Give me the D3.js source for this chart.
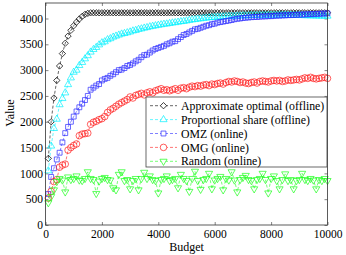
<!DOCTYPE html>
<html>
<head>
<meta charset="utf-8">
<script src="https://cdn.jsdelivr.net/npm/d3@7"></script>
<style>
  body { margin: 0; background: #fff; }
  text { font-family: "Liberation Serif", "Times New Roman", serif; fill: #000; }
</style>
</head>
<body>
<div id="vis"></div>
<script>
var width = 346,
    height = 255;

// budget grid (x values)
var budget = [100,200,300,400,500,600,700,800,900,1000,1100,1200,1300,1400,1500,1600,1700,1800,1900,2000,
  2100,2200,2300,2400,2500,2600,2700,2800,2900,3000,3100,3200,3300,3400,3500,3600,3700,3800,3900,4000,
  4100,4200,4300,4400,4500,4600,4700,4800,4900,5000,5100,5200,5300,5400,5500,5600,5700,5800,5900,6000,
  6100,6200,6300,6400,6500,6600,6700,6800,6900,7000,7100,7200,7300,7400,7500,7600,7700,7800,7900,8000,
  8100,8200,8300,8400,8500,8600,8700,8800,8900,9000,9100,9200,9300,9400,9500,9600,9700,9800,9900,10000];

var approxOpt = [1290,2000,2460,2800,3080,3320,3520,3660,3770,3860,3930,3990,4040,4080,4100,4110,4110,4110,4110,4110,
  4110,4110,4110,4110,4110,4110,4110,4110,4110,4110,4110,4110,4110,4110,4110,4110,4110,4110,4110,4110,
  4110,4110,4110,4110,4110,4110,4110,4110,4110,4110,4110,4110,4110,4110,4110,4110,4110,4110,4110,4110,
  4110,4110,4110,4110,4110,4110,4110,4110,4110,4110,4110,4110,4110,4110,4110,4110,4110,4110,4110,4110,
  4110,4110,4110,4110,4110,4110,4110,4110,4110,4110,4110,4110,4110,4110,4110,4110,4110,4110,4110,4110];

var propShare = [1050,1530,1870,2050,2330,2450,2560,2720,2850,2960,3000,3090,3150,3220,3280,3350,3400,3440,3490,3530,
  3550,3590,3610,3640,3660,3680,3700,3710,3725,3740,3760,3770,3790,3800,3815,3825,3840,3850,3860,3870,
  3880,3890,3895,3905,3915,3920,3930,3940,3945,3955,3965,3975,3980,3990,3995,4005,4010,4015,4020,4025,
  4030,4030,4035,4040,4040,4045,4045,4050,4050,4055,4055,4055,4060,4060,4060,4062,4062,4064,4064,4065,
  4065,4065,4066,4066,4066,4064,4064,4062,4060,4060,4058,4056,4055,4054,4052,4050,4050,4048,4048,4047];

var omz = [600,930,1100,1270,1400,1600,1780,1900,2000,2100,2200,2280,2350,2420,2500,2620,2660,2700,2730,2800,
  2830,2850,2890,2920,2960,3000,3010,3040,3080,3100,3130,3170,3200,3250,3290,3300,3340,3380,3410,3430,
  3450,3470,3500,3520,3550,3560,3600,3640,3680,3700,3730,3760,3790,3800,3820,3840,3860,3870,3890,3900,
  3920,3930,3940,3950,3960,3970,3985,3995,4000,4010,4015,4020,4025,4030,4030,4035,4040,4040,4045,4045,
  4050,4055,4055,4060,4060,4065,4065,4070,4070,4075,4075,4080,4080,4085,4085,4090,4090,4095,4095,4100];

var omg = [520,650,840,880,1120,1160,1180,1450,1500,1540,1570,1730,1760,1770,1780,1950,1990,2010,2040,2060,
  2100,2180,2230,2260,2300,2340,2370,2400,2430,2480,2460,2510,2530,2550,2520,2560,2580,2560,2600,2620,
  2640,2610,2620,2600,2620,2640,2610,2650,2660,2640,2670,2690,2680,2700,2690,2710,2720,2700,2730,2720,
  2740,2750,2730,2760,2780,2770,2790,2780,2760,2770,2750,2740,2760,2770,2750,2780,2790,2780,2770,2790,
  2800,2790,2800,2780,2790,2810,2800,2810,2820,2810,2830,2850,2840,2860,2840,2830,2840,2850,2860,2840];

var randomOnline = [430,550,680,840,900,870,640,930,880,900,950,870,860,900,1030,900,880,610,850,900,
  920,880,870,720,680,980,1030,860,880,700,860,900,680,900,1020,900,950,880,860,620,
  880,900,950,860,880,900,720,980,900,860,650,900,1040,860,690,880,900,1000,700,870,
  900,940,680,900,870,1030,870,640,880,920,960,880,860,700,880,900,1000,880,620,900,
  950,860,700,880,990,860,880,700,860,880,1000,880,860,900,870,700,880,860,900,860];

var seriesNames = ["Approximate optimal (offline)", "Proportional share (offline)", "OMZ (online)", "OMG (online)", "Random (online)"];
var seriesColors = ["#000000", "#00f0ff", "#2a2aff", "#ff1a1a", "#1aff1a"];
var seriesMarkers = ["diamond", "triangle", "square", "circle", "triangleDown"];
var seriesValues = [approxOpt, propShare, omz, omg, randomOnline];

var xTicks = [0, 2000, 4000, 6000, 8000, 10000];
var yTicks = [0, 500, 1000, 1500, 2000, 2500, 3000, 3500, 4000];

var plotLeft = 45.5, plotRight = 327.5, plotTop = 3, plotBottom = 225;

var svg = d3.select("#vis").append("svg")
    .attr("width", width)
    .attr("height", height);

var x = d3.scaleLinear().domain([0, 10000]).range([plotLeft, plotRight]);
var y = d3.scaleLinear().domain([0, 4300]).range([plotBottom, plotTop]);

// markers
function markerPath(kind) {
  if (kind == "circle") return d3.symbol().type(d3.symbolCircle).size(34)();
  if (kind == "square") return d3.symbol().type(d3.symbolSquare).size(24)();
  if (kind == "diamond") return d3.symbol().type(d3.symbolSquare).size(20)();
  return d3.symbol().type(d3.symbolTriangle).size(22)();
}
function markerRotate(kind) {
  if (kind == "diamond") return 45;
  if (kind == "triangleDown") return 180;
  return 0;
}

var fmt = d3.format("d");

// axes (ticks inside)
svg.append("g")
    .attr("transform", "translate(0," + plotBottom + ")")
    .call(d3.axisBottom(x).tickValues(xTicks).tickFormat(fmt).tickSize(-3).tickPadding(5).tickSizeOuter(0))
    .call(function(g) { g.select(".domain").remove(); });
svg.append("g")
    .attr("transform", "translate(0," + plotTop + ")")
    .call(d3.axisTop(x).tickValues(xTicks).tickSize(-3).tickFormat("").tickSizeOuter(0))
    .call(function(g) { g.select(".domain").remove(); });
svg.append("g")
    .attr("transform", "translate(" + plotLeft + ",0)")
    .call(d3.axisLeft(y).tickValues(yTicks).tickFormat(fmt).tickSize(-3).tickPadding(2.5).tickSizeOuter(0))
    .call(function(g) { g.select(".domain").remove(); });
svg.append("g")
    .attr("transform", "translate(" + plotRight + ",0)")
    .call(d3.axisRight(y).tickValues(yTicks).tickSize(-3).tickFormat("").tickSizeOuter(0))
    .call(function(g) { g.select(".domain").remove(); });

svg.selectAll(".tick line").attr("stroke", "#333").attr("stroke-width", 0.6);
svg.selectAll(".tick text")
    .style("font-family", "'Liberation Serif', serif")
    .style("font-size", "11.5px")
    .attr("fill", "#000");

// series
var line = d3.line()
    .x(function(d) { return x(d[0]); })
    .y(function(d) { return y(d[1]); });

seriesValues.forEach(function(vals, i) {
  var pts = budget.map(function(b, j) { return [b, vals[j]]; });
  var g = svg.append("g");
  g.append("path")
      .datum(pts)
      .attr("d", line)
      .attr("fill", "none")
      .attr("stroke", seriesColors[i])
      .attr("stroke-width", 0.6)
      .attr("stroke-dasharray", "3,2");
  g.selectAll("path.mk")
      .data(pts)
      .enter()
      .append("path")
      .attr("class", "mk")
      .attr("d", markerPath(seriesMarkers[i]))
      .attr("transform", function(d) {
        return "translate(" + x(d[0]) + "," + y(d[1]) + ") rotate(" + markerRotate(seriesMarkers[i]) + ")";
      })
      .attr("fill", "none")
      .attr("stroke", seriesColors[i])
      .attr("stroke-width", 0.7);
});

// box
svg.append("rect")
    .attr("x", plotLeft)
    .attr("y", plotTop)
    .attr("width", plotRight - plotLeft)
    .attr("height", plotBottom - plotTop)
    .attr("fill", "none")
    .attr("stroke", "#333")
    .attr("stroke-width", 0.8);

// axis labels
svg.append("text")
    .attr("x", (plotLeft + plotRight) / 2)
    .attr("y", 251)
    .attr("text-anchor", "middle")
    .style("font-size", "12px")
    .text("Budget");

svg.append("text")
    .attr("transform", "translate(14,113) rotate(-90)")
    .attr("text-anchor", "middle")
    .style("font-size", "12px")
    .text("Value");

// legend
var legend = svg.append("g");
legend.append("rect")
    .attr("x", 146)
    .attr("y", 97)
    .attr("width", 181)
    .attr("height", 70)
    .attr("fill", "#fff")
    .attr("stroke", "#444")
    .attr("stroke-width", 0.8);

seriesNames.forEach(function(name, i) {
  var ry = 105.7 + i * 13.9;
  legend.append("line")
      .attr("x1", 150).attr("x2", 177)
      .attr("y1", ry).attr("y2", ry)
      .attr("stroke", seriesColors[i])
      .attr("stroke-width", 0.6)
      .attr("stroke-dasharray", "3,2");
  legend.append("path")
      .attr("d", markerPath(seriesMarkers[i]))
      .attr("transform", "translate(163.5," + ry + ") rotate(" + markerRotate(seriesMarkers[i]) + ")")
      .attr("fill", "#fff")
      .attr("stroke", seriesColors[i])
      .attr("stroke-width", 0.7);
  legend.append("text")
      .attr("x", 181)
      .attr("y", ry)
      .attr("dy", "0.35em")
      .style("font-size", "11.8px")
      .text(name);
});
</script>
</body>
</html>
